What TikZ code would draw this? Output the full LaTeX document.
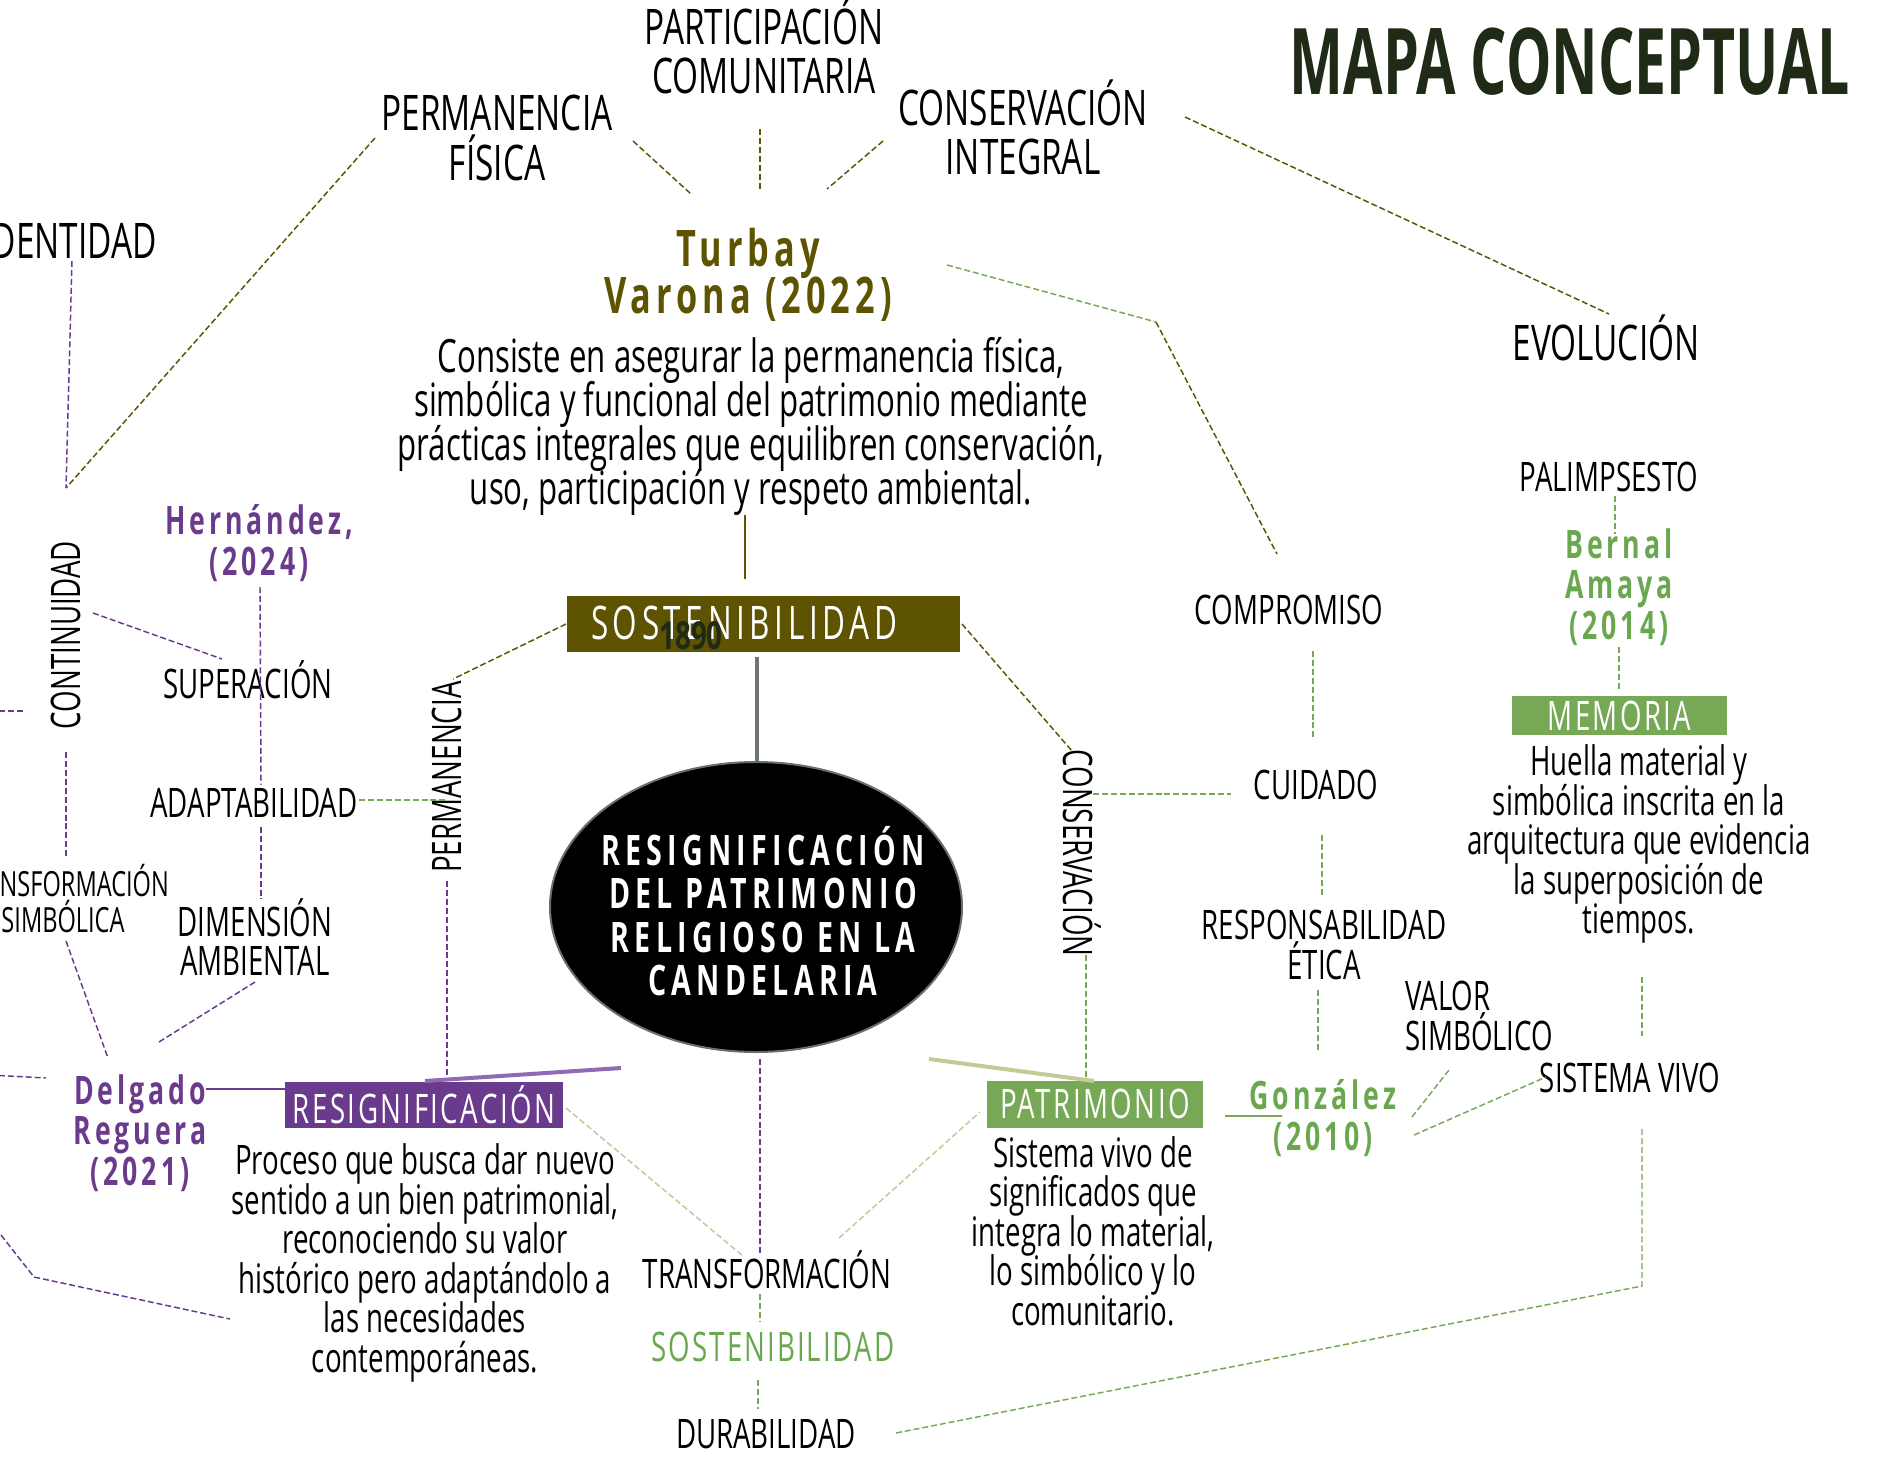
\documentclass[tikz,border=0pt]{standalone}
\usepackage{fontspec}
\setmainfont{Open Sans}[FakeStretch=0.68]
\newfontfamily\spc{Open Sans}[FakeStretch=0.68,LetterSpace=10]
\newfontfamily\spb{Open Sans}[FakeStretch=0.68,LetterSpace=6]
\newfontfamily\spg{Open Sans}[FakeStretch=0.68,LetterSpace=5]
\newfontfamily\spe{Open Sans}[FakeStretch=0.68,LetterSpace=12.5]
\newfontfamily\ttl{Open Sans}[FakeStretch=0.622]
\newfontfamily\yr{Open Sans}[FakeStretch=0.72]
\usetikzlibrary{shapes.geometric}
\definecolor{olive}{RGB}{94,83,0}
\definecolor{titlec}{RGB}{31,42,23}
\definecolor{purp}{RGB}{106,58,140}
\definecolor{lpurp}{RGB}{145,105,180}
\definecolor{grn}{RGB}{118,168,86}
\definecolor{grntxt}{RGB}{106,168,79}
\definecolor{khaki}{RGB}{196,202,150}
\definecolor{grayl}{RGB}{110,118,114}
\definecolor{ellb}{RGB}{100,115,100}
\newcommand\fsmed{\fontsize{30.5}{29.6}\selectfont}
\newcommand\fsbig{\fontsize{36.8}{36.8}\selectfont}
\newcommand\fscite{\fontsize{29.4}{30.2}\selectfont}
\newcommand\fstp{\fontsize{34.4}{33}\selectfont}
\lineskiplimit=-100pt
\begin{document}
\begin{tikzpicture}[x=0.75pt,y=-0.75pt,
  lbl/.style={inner sep=0pt, align=center, font=\fsmed},
  big/.style={inner sep=0pt, align=center, font=\fsbig},
  cite/.style={inner sep=0pt, align=center, font=\spc\bfseries\fscite},
  boxt/.style={inner sep=0pt, text=white, font=\spb\fsmed},
  dsh/.style={line width=1.1pt, dash pattern=on 4.5pt off 2.2pt},
  odash/.style={dsh, draw=olive},
  pdash/.style={dsh, draw=purp},
  gdash/.style={dsh, draw=grn},
  kdash/.style={dsh, draw=khaki}]
\useasboundingbox (0,0) rectangle (1879,1465);
\fill[white] (0,0) rectangle (1879,1465);
\clip (0,0) rectangle (1879,1465);

% ---------- nodes ----------
\node[inner sep=0pt, font=\ttl\bfseries\fontsize{69}{69}\selectfont, text=titlec] (title) at (1570,62) {MAPA CONCEPTUAL};
\node[big] (partic) at (764,46) {PARTICIPACIÓN\\COMUNITARIA};
\node[big] (permf) at (497,138) {PERMANENCIA\\FÍSICA};
\node[big] (consint) at (1023,127) {CONSERVACIÓN\\INTEGRAL};
\node[big, anchor=east] (ident) at (157,241) {IDENTIDAD};
\node[big] (evol) at (1606,338) {EVOLUCIÓN};
\node[cite, text=olive, font=\spc\bfseries\fontsize{37.8}{35.5}\selectfont] (turbay) at (748,275) {Turbay\\Varona (2022)};
\node[inner sep=0pt, align=center, font=\fstp] (tpara) at (751,426) {Consiste en asegurar la permanencia física,\\simbólica y funcional del patrimonio mediante\\prácticas integrales que equilibren conservación,\\uso, participación y respeto ambiental.};
\node[fill=olive, minimum width=294.75pt, minimum height=42pt, inner sep=0pt] (sostbox) at (763.5,624) {};
\node[boxt, font=\spc\fontsize{34.7}{34}\selectfont] (sosttxt) at (744,623) {SOSTENIBILIDAD};
\node[inner sep=0pt, text=titlec, font=\yr\bfseries\fontsize{29}{29}\selectfont] (year) at (691,636) {1890};
\node[ellipse, fill=black, draw=ellb, line width=1.5pt, minimum width=309pt, minimum height=217.5pt, inner sep=0pt] (core) at (756,907) {};
\node[inner sep=0pt, text=white, align=center, font=\spe\bfseries\fontsize{31.5}{32.6}\selectfont] (coretxt) at (763,911) {RESIGNIFICACIÓN\\DEL PATRIMONIO\\RELIGIOSO EN LA\\CANDELARIA};

\node[lbl, rotate=90] (contin) at (66,635) {CONTINUIDAD};
\node[cite, text=purp] (hern) at (259,543) {Hernández,\\(2024)};
\node[lbl] (super) at (248,680) {SUPERACIÓN};
\node[lbl] (adapt) at (254,803) {ADAPTABILIDAD};
\node[lbl] (dimamb) at (255,937) {DIMENSIÓN\\AMBIENTAL};
\node[inner sep=0pt, align=center, font=\fontsize{26}{27}\selectfont] (transsimb) at (63,899) {TRANSFORMACIÓN\\SIMBÓLICA};
\node[cite, text=purp] (delgado) at (140,1133) {Delgado\\Reguera\\(2021)};
\node[fill=purp, minimum width=208.5pt, minimum height=34.5pt, boxt] (resbox) at (424,1105) {RESIGNIFICACIÓN};
\node[lbl] (respara) at (425,1263) {Proceso que busca dar nuevo\\sentido a un bien patrimonial,\\reconociendo su valor\\histórico pero adaptándolo a\\las necesidades\\contemporáneas.};
\node[lbl, rotate=90] (perman) at (447,777) {PERMANENCIA};

\node[lbl] (transf) at (767,1270) {TRANSFORMACIÓN};
\node[boxt, font=\spg\fsmed, text=grntxt] (sostg) at (773,1347) {SOSTENIBILIDAD};
\node[lbl] (durab) at (766,1434) {DURABILIDAD};

\node[fill=grn, minimum width=162pt, minimum height=35.25pt, boxt] (patbox) at (1095,1104) {PATRIMONIO};
\node[lbl] (patpara) at (1093,1231) {Sistema vivo de\\significados que\\integra lo material,\\lo simbólico y lo\\comunitario.};
\node[lbl, rotate=-90] (conserv) at (1082,853) {CONSERVACIÓN};

\node[lbl] (compro) at (1289,610) {COMPROMISO};
\node[lbl] (cuid) at (1316,785) {CUIDADO};
\node[lbl] (respet) at (1324,945) {RESPONSABILIDAD\\ÉTICA};
\node[cite, text=grntxt] (gonz) at (1323,1118) {González\\(2010)};
\node[lbl, align=left, anchor=west] (valor) at (1405,1016) {VALOR\\SIMBÓLICO};
\node[lbl] (sistema) at (1630,1078) {SISTEMA VIVO};

\node[lbl] (palim) at (1609,477) {PALIMPSESTO};
\node[cite, text=grntxt] (bernal) at (1619,587) {Bernal\\Amaya\\(2014)};
\node[fill=grn, minimum width=161.25pt, minimum height=29.25pt, boxt] (membox) at (1619.5,715.5) {MEMORIA};
\node[lbl] (mempara) at (1639,844) {Huella material y\\simbólica inscrita en la\\arquitectura que evidencia\\la superposición de\\tiempos.};

% ---------- connector end points ----------
\coordinate (a1) at (633,141); \coordinate (a2) at (691,194);
\coordinate (b1) at (760,129); \coordinate (b2) at (760,189);
\coordinate (c1) at (883,141); \coordinate (c2) at (827,189);
\coordinate (d1) at (1185,117); \coordinate (d2) at (1609,314);
\coordinate (e1) at (375,138); \coordinate (e2) at (66,488);
\coordinate (f1) at (947,265); \coordinate (f2) at (1156,322); \coordinate (f3) at (1277,554);
\coordinate (g1) at (566,624); \coordinate (g2) at (453,679);
\coordinate (h1) at (962,624); \coordinate (h2) at (1072,751);
\coordinate (i1) at (745,515); \coordinate (i2) at (745,579);
\coordinate (j1) at (757,657); \coordinate (j2) at (757,761);
\coordinate (k1) at (72,261);
\coordinate (l1) at (93,613); \coordinate (l2) at (222,659);
\coordinate (m0) at (-10,711); \coordinate (m1) at (24,711);
\coordinate (n1) at (66,752); \coordinate (n2) at (66,857);
\coordinate (o1) at (260,587); \coordinate (o2) at (261,785);
\coordinate (p1) at (261,827); \coordinate (p2) at (261,899);
\coordinate (q1) at (255,982); \coordinate (q2) at (159,1042);
\coordinate (r1) at (66,941); \coordinate (r2) at (108,1058);
\coordinate (s0) at (-10,1075); \coordinate (s1) at (46,1078);
\coordinate (t0) at (-10,1221); \coordinate (t1) at (34,1277); \coordinate (t2) at (230,1319);
\coordinate (u1) at (447,881); \coordinate (u2) at (447,1078);
\coordinate (v1) at (760,1059); \coordinate (v2) at (760,1253);
\coordinate (w1) at (206,1089); \coordinate (w2) at (285,1089);
\coordinate (x1) at (425,1081); \coordinate (x2) at (621,1068);
\coordinate (y1) at (359,800); \coordinate (y2) at (446,800);
\coordinate (z1) at (760,1294); \coordinate (z2) at (760,1321);
\coordinate (aa1) at (758,1380); \coordinate (aa2) at (758,1409);
\coordinate (bb1) at (896,1433); \coordinate (bb2) at (1642,1286); \coordinate (bb3) at (1642,1129);
\coordinate (cc1) at (1093,794); \coordinate (cc2) at (1231,794);
\coordinate (dd1) at (1086,955); \coordinate (dd2) at (1086,1078);
\coordinate (ee1) at (1313,651); \coordinate (ee2) at (1313,739);
\coordinate (ff1) at (1322,835); \coordinate (ff2) at (1322,896);
\coordinate (gg1) at (1318,990); \coordinate (gg2) at (1318,1050);
\coordinate (hh1) at (1412,1117); \coordinate (hh2) at (1449,1070);
\coordinate (ii1) at (1414,1135); \coordinate (ii2) at (1546,1077);
\coordinate (jj1) at (1642,977); \coordinate (jj2) at (1642,1036);
\coordinate (kk1) at (1615,496); \coordinate (kk2) at (1615,534);
\coordinate (ll1) at (1619,647); \coordinate (ll2) at (1619,689);
\coordinate (mm1) at (1225,1116); \coordinate (mm2) at (1282,1116);
\coordinate (nn1) at (566,1108); \coordinate (nn2) at (743,1256);
\coordinate (oo1) at (839,1238); \coordinate (oo2) at (980,1112);
\coordinate (pp1) at (929,1059); \coordinate (pp2) at (1094,1081);

% ---------- connectors ----------
\draw[odash] (a1) -- (a2);
\draw[odash] (b1) -- (b2);
\draw[odash] (c1) -- (c2);
\draw[odash] (d1) -- (d2);
\draw[odash] (e1) -- (e2);
\draw[gdash] (f1) -- (f2);
\draw[odash] (f2) -- (f3);
\draw[odash] (g1) -- (g2);
\draw[odash] (h1) -- (h2);
\draw[olive, line width=2.2pt] (i1) -- (i2);
\draw[grayl, line width=2.6pt] (j1) -- (j2);

\draw[pdash] (k1) -- (e2);
\draw[pdash] (l1) -- (l2);
\draw[pdash] (m0) -- (m1);
\draw[pdash] (n1) -- (n2);
\draw[pdash] (o1) -- (o2);
\draw[pdash] (p1) -- (p2);
\draw[pdash] (q1) -- (q2);
\draw[pdash] (r1) -- (r2);
\draw[pdash] (s0) -- (s1);
\draw[pdash] (t0) -- (t1) -- (t2);
\draw[pdash] (u1) -- (u2);
\draw[pdash] (v1) -- (v2);
\draw[purp, line width=2.2pt] (w1) -- (w2);
\draw[lpurp, line width=3pt] (x1) -- (x2);

\draw[gdash] (y1) -- (y2);
\draw[gdash] (z1) -- (z2);
\draw[gdash] (aa1) -- (aa2);
\draw[gdash] (bb1) -- (bb2) -- (bb3);
\draw[gdash] (cc1) -- (cc2);
\draw[gdash] (dd1) -- (dd2);
\draw[gdash] (ee1) -- (ee2);
\draw[gdash] (ff1) -- (ff2);
\draw[gdash] (gg1) -- (gg2);
\draw[gdash] (hh1) -- (hh2);
\draw[gdash] (ii1) -- (ii2);
\draw[gdash] (jj1) -- (jj2);
\draw[gdash] (kk1) -- (kk2);
\draw[gdash] (ll1) -- (ll2);
\draw[grn, line width=2.2pt] (mm1) -- (mm2);
\draw[kdash] (nn1) -- (nn2);
\draw[kdash] (oo1) -- (oo2);
\draw[khaki, line width=3pt] (pp1) -- (pp2);
\end{tikzpicture}
\end{document}
